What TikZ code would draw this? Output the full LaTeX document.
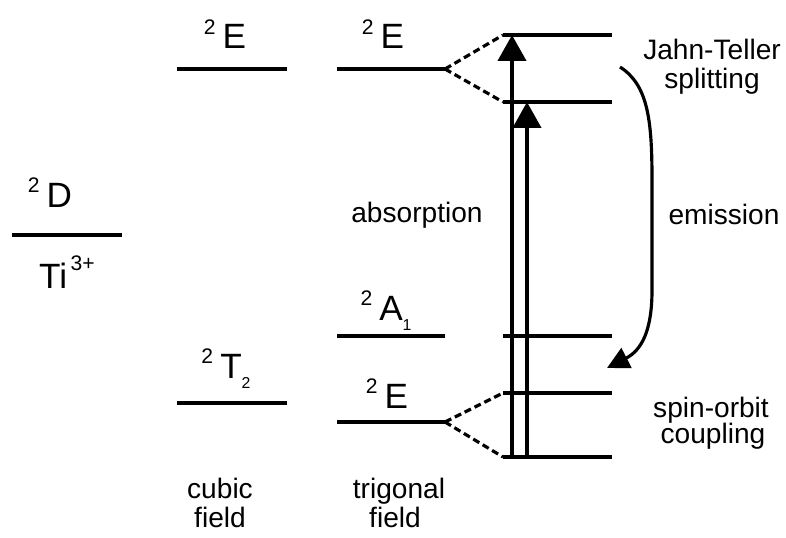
\documentclass[tikz,border=0pt]{standalone}
\usepackage{fontspec}
\setmainfont{Liberation Sans}
\usetikzlibrary{arrows.meta}

\newcommand{\term}[3]{\raisebox{8pt}{\fontsize{12}{12}\selectfont#1}\hspace{4pt}{\fontsize{20}{24}\selectfont#2}\raisebox{-6pt}{\fontsize{9}{9}\selectfont#3}}

\tikzset{
  level/.style={line width=2.6pt},
  split/.style={line width=1.8pt, dash pattern=on 0.14cm off 0.08cm},
  absarrow/.style={line width=2.3pt, -{Triangle[length=0.52cm,width=0.56cm]}},
  emarrow/.style={line width=1.8pt, -{Triangle[length=0.44cm,width=0.44cm]}},
  lbl/.style={anchor=base, inner sep=0pt}
}

\begin{document}
\begin{tikzpicture}[x=0.02cm, y=-0.02cm, font=\fontsize{16}{19}\selectfont]
  \useasboundingbox (0,0) rectangle (786,537);

  % free ion
  \draw[level] (12,235) coordinate (D-l) -- (122,235) coordinate (D-r);
  \node[lbl] (Dlbl) at (50,207) {\term{2}{D}{}};
  \node[lbl] (ion) at (67,288) {{\fontsize{20}{24}\selectfont Ti}\raisebox{10pt}{\fontsize{12}{12}\selectfont\,3+}};

  % cubic field
  \draw[level] (177,69) coordinate (cE-l) -- (287,69) coordinate (cE-r);
  \draw[level] (177,403) coordinate (cT-l) -- (287,403) coordinate (cT-r);
  \node[lbl] (cElbl) at (225,49) {\term{2}{E}{}};
  \node[lbl] (cTlbl) at (226,378) {\term{2}{T}{2}};

  % trigonal field
  \draw[level] (337,69) coordinate (tE-l) -- (445,69) coordinate (tE-r);
  \draw[level] (337,336) coordinate (tA-l) -- (445,336) coordinate (tA-r);
  \draw[level] (337,422) coordinate (tE2-l) -- (445,422) coordinate (tE2-r);
  \node[lbl] (tElbl) at (383,49) {\term{2}{E}{}};
  \node[lbl] (tAlbl) at (386,320) {\term{2}{A}{1}};
  \node[lbl] (tE2lbl) at (387,408) {\term{2}{E}{}};

  % split levels
  \foreach \y/\n in {35/jt1, 102/jt2, 336/ra, 393/so1, 457/so2}
    \draw[level] (503,\y) coordinate (\n-l) -- (612,\y) coordinate (\n-r);

  \draw[split] (tE-r) -- (jt1-l);
  \draw[split] (tE-r) -- (jt2-l);
  \draw[split] (tE2-r) -- (so1-l);
  \draw[split] (tE2-r) -- (so2-l);

  % absorption
  \draw[absarrow] (512,457) coordinate (a1) -- (512,35) coordinate (b1);
  \draw[absarrow] (527,457) coordinate (a2) -- (527,102) coordinate (b2);
  \node[lbl] (abs) at (417,222) {absorption};

  % emission
  \coordinate (emS) at (620,67);
  \coordinate (emE) at (607,368);
  \draw[emarrow] (emS) .. controls (648,85) and (652,120) .. (652,180)
    -- (652,290) .. controls (652,330) and (642,350) .. (emE);
  \node[lbl] (em) at (724,224) {emission};

  \node[lbl] (jt) at (712,60) {Jahn-Teller};
  \node[lbl] (jt2) at (712,89) {splitting};
  \node[lbl] (so) at (711,417) {spin-orbit};
  \node[lbl] (so2) at (713,443) {coupling};

  \node[lbl] (cub) at (220,498) {cubic};
  \node[lbl] (cubf) at (220,527) {field};
  \node[lbl] (tri) at (399,498) {trigonal};
  \node[lbl] (trif) at (395,527) {field};
\end{tikzpicture}
\end{document}
